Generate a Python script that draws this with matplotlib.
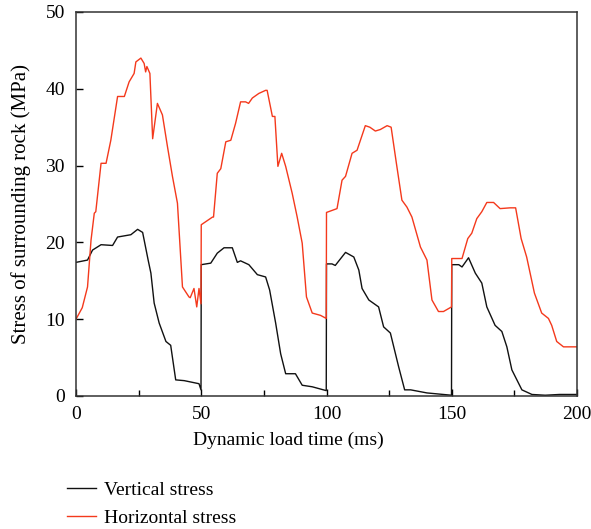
import matplotlib
matplotlib.use("Agg")
import matplotlib.pyplot as plt

plt.rcParams['font.family'] = ['Liberation Serif', 'DejaVu Serif']

# Vertical stress (black)
t_vertical = [0, 4.6, 6.6, 10.0, 14.6, 16.6, 21.9, 24.6, 26.6, 28.8, 29.9, 31.2, 33.2, 35.9, 37.8,
              39.8, 43.2, 49.1, 49.9,
              50.0, 53.8, 56.4, 59.1, 62.4, 64.4, 65.7, 69.0, 72.4, 75.7, 77.3, 79.7, 81.7, 83.7,
              87.6, 90.3, 94.3, 99.9,
              100.0, 102.2, 103.5, 107.6, 110.9, 112.9, 114.2, 116.9, 120.8, 122.8, 125.5, 128.8,
              131.2, 133.6, 140.1, 149.9,
              150.0, 152.8, 154.1, 156.7, 159.4, 162.0, 164.0, 167.3, 170.0, 172.0, 174.0, 176.0,
              178.0, 182.0, 187.3, 193.0, 200.0]
v_vertical = [17.4, 17.7, 19.0, 19.7, 19.6, 20.7, 21.0, 21.7, 21.3, 17.7, 16.0, 12.1, 9.5, 7.1, 6.6,
              2.1, 2.0, 1.6, 0.8,
              17.1, 17.3, 18.6, 19.3, 19.3, 17.4, 17.6, 17.1, 15.8, 15.5, 13.8, 9.5, 5.5, 2.9,
              2.9, 1.4, 1.2, 0.7,
              17.2, 17.2, 17.0, 18.7, 18.1, 16.4, 14.0, 12.5, 11.6, 9.0, 8.2, 3.8,
              0.8, 0.8, 0.4, 0.1,
              17.1, 17.1, 16.8, 18.0, 16.0, 14.7, 11.6, 9.2, 8.4, 6.4, 3.4, 2.1,
              0.8, 0.2, 0.1, 0.2, 0.2]

# Horizontal stress (red)
t_horizontal = [0, 2.5, 4.6, 6.0, 7.3, 7.9, 10.0, 12.0, 13.9, 16.6, 19.3, 21.2, 23.2, 23.9, 25.9,
                27.2, 27.8, 28.3, 29.5, 30.6, 32.5, 34.5, 36.5, 38.5, 40.5, 42.5, 45.1, 45.6,
                47.1, 48.2, 49.1, 49.9,
                50.0, 54.5, 54.9, 56.4, 57.8, 59.8, 61.8, 63.7, 65.7, 67.7, 68.9, 70.4, 73.0,
                75.7, 76.3, 78.4, 79.4, 80.6, 82.1, 83.7, 86.3, 88.3, 90.3, 92.0, 94.3, 97.6,
                99.9,
                100.0, 104.2, 106.2, 107.6, 110.2, 112.2, 115.5, 117.3, 119.5, 121.5, 124.2,
                125.8, 127.9, 130.1, 132.1, 134.1, 137.5, 140.1, 142.1, 144.7, 146.7, 149.9,
                150.0, 154.1, 156.4, 158.0, 160.0, 162.0, 164.0, 166.7, 169.3, 173.3, 175.5,
                177.7, 179.9, 183.0, 185.9, 188.6, 189.9, 191.9, 194.6, 200.0]
v_horizontal = [10.0, 11.5, 14.2, 20.3, 23.8, 24.0, 30.3, 30.3, 33.3, 39.0, 39.0, 40.9, 42.0, 43.5, 44.0,
                43.3, 42.2, 42.9, 42.0, 33.5, 38.1, 36.6, 32.5, 28.6, 25.1, 14.2, 12.9, 12.8,
                14.0, 11.6, 14.0, 12.0,
                22.3, 23.3, 23.3, 29.0, 29.6, 33.1, 33.3, 35.5, 38.3, 38.3, 38.1, 38.8, 39.4,
                39.8, 39.8, 36.4, 36.4, 29.9, 31.6, 29.9, 26.4, 23.3, 19.9, 12.9, 10.8, 10.5,
                10.1,
                23.9, 24.4, 28.1, 28.6, 31.6, 32.0, 35.2, 35.0, 34.5, 34.7, 35.2,
                35.0, 30.3, 25.5, 24.6, 23.3, 19.4, 17.7, 12.5, 11.0, 11.0, 11.6,
                17.9, 17.9, 20.5, 21.2, 23.1, 24.0, 25.2, 25.2, 24.4, 24.5, 24.5,
                20.5, 18.1, 13.4, 10.8, 10.1, 9.2, 7.1, 6.4, 6.4]

x_ticks = [0, 50, 100, 150, 200]
y_ticks = [0, 10, 20, 30, 40, 50]

fig = plt.figure(figsize=(5.91, 5.29), dpi=100)
ax = fig.add_axes([76/591, 1-396/529, (577-76)/591, (396-12)/529])

ax.plot(t_vertical, v_vertical, color='#111111', lw=1.0, label='Vertical stress')
ax.plot(t_horizontal, v_horizontal, color='#f4391c', lw=1.0, label='Horizontal stress')

ax.set_xlim(0, 200)
ax.set_ylim(0, 50)
ax.set_xticks(x_ticks)
ax.set_yticks(y_ticks)
ax.set_xticks([25, 75, 125, 175], minor=True)
ax.tick_params(which='both', direction='in', labelsize=14, length=5, width=1)
ax.tick_params(axis='x', which='both', pad=7)
ax.tick_params(axis='y', which='both', pad=8)
ax.tick_params(which='minor', length=4)
for s in ax.spines.values():
    s.set_linewidth(1.1)
    s.set_color('#333333')

ax.set_xlabel('Dynamic load time (ms)', fontsize=14)
ax.set_ylabel('Stress of surrounding rock (MPa)', fontsize=15)
ax.xaxis.set_label_coords(0.423, -(432 - 396) / 384)
ax.yaxis.set_label_coords((31 - 76) / 501, 0.5)

fig.legend(loc='upper left', bbox_to_anchor=(67/591, 1-481/529), frameon=False,
           fontsize=14, handlelength=1.5, handletextpad=0.4, labelspacing=0.55,
           borderpad=0, borderaxespad=0)

fig.savefig('out.png', dpi=100)
